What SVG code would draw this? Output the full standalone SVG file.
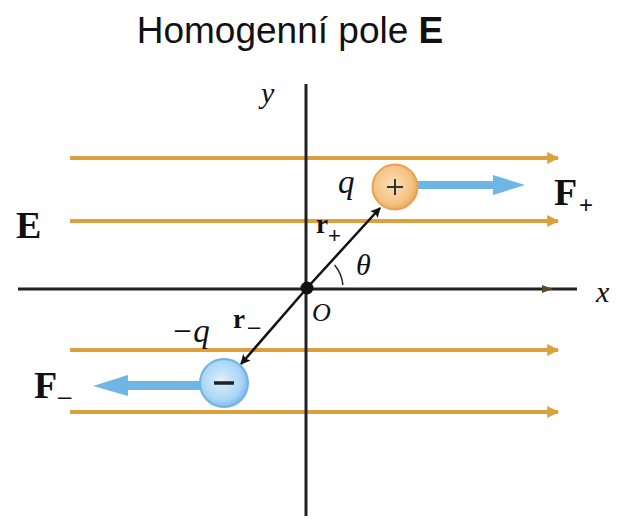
<svg xmlns="http://www.w3.org/2000/svg" width="617" height="519" viewBox="0 0 617 519">
<defs>
<marker id="oh" viewBox="0 0 10 10" refX="9" refY="5" markerWidth="4.5" markerHeight="3" markerUnits="strokeWidth" orient="auto"><path d="M0,0 L10,5 L0,10 Z" fill="#DCA03C"/></marker>
<marker id="bh" viewBox="0 0 10 10" refX="9" refY="5" markerWidth="5" markerHeight="4" markerUnits="strokeWidth" orient="auto"><path d="M0,0 L10,5 L0,10 L2,5 Z" fill="#111"/></marker>
<radialGradient id="gp" cx="0.45" cy="0.45" r="0.6"><stop offset="0" stop-color="#FCE0B8"/><stop offset="0.7" stop-color="#F5C282"/><stop offset="1" stop-color="#E9A154"/></radialGradient>
<radialGradient id="gn" cx="0.45" cy="0.45" r="0.6"><stop offset="0" stop-color="#DDF0FD"/><stop offset="0.7" stop-color="#A9D5F5"/><stop offset="1" stop-color="#6EB3EA"/></radialGradient>
</defs>
<style>
.field{stroke:#DCA03C;stroke-width:4;fill:none;marker-end:url(#oh)}
.axis{stroke:#222;stroke-width:3;fill:none}
.vec{stroke:#111;stroke-width:2.5;fill:none;marker-end:url(#bh)}
.force{fill:#6DB6E6}
.it{font-family:"Liberation Serif",serif;font-style:italic;fill:#111}
.bd{font-family:"Liberation Serif",serif;font-weight:bold;fill:#111}
.sub{font-family:"Liberation Sans",sans-serif;fill:#111}
</style>
<rect width="617" height="519" fill="#fff"/>
<text x="290" y="43" text-anchor="middle" font-family="Liberation Sans, Arial, sans-serif" font-size="37" fill="#111">Homogenní pole <tspan font-weight="bold">E</tspan></text>

<g id="connectors">
<line class="field" x1="70" y1="158" x2="558" y2="158"/>
<line class="field" x1="70" y1="221" x2="558" y2="221"/>
<line class="field" x1="70" y1="350" x2="558" y2="350"/>
<line class="field" x1="70" y1="412" x2="558" y2="412"/>
<line class="axis" x1="18" y1="289" x2="577" y2="289"/>
<path d="M542,285 L553,289 L542,293 Z" fill="#5A4C24"/>
<line class="axis" x1="306" y1="84" x2="306" y2="516"/>
<line class="vec" x1="307" y1="288" x2="380" y2="208"/>
<line class="vec" x1="307" y1="288" x2="241" y2="364"/>
<path d="M342.9,284.9 A36,36 0 0 0 334.6,264.9" stroke="#222" stroke-width="1.5" fill="none"/>
</g>

<g id="origin"><circle cx="307" cy="288" r="6.5" fill="#111"/></g>

<g id="force-plus"><path class="force" d="M416,181 L493,181 L493,175 L525,185 L493,195 L493,189 L416,189 Z"/></g>
<g id="force-minus"><path class="force" d="M202,381 L128,381 L128,375 L93,386 L128,396 L128,390 L202,390 Z"/></g>

<g id="charge-plus">
<circle cx="395" cy="187" r="22.5" fill="url(#gp)" stroke="#E9A154" stroke-width="2"/>
<path d="M387,187 H403 M395,179 V195" stroke="#333" stroke-width="2"/>
</g>
<g id="charge-minus">
<circle cx="224" cy="383" r="24" fill="url(#gn)" stroke="#6EB3EA" stroke-width="2"/>
<path d="M214,383 H234" stroke="#222" stroke-width="3.5"/>
</g>

<g id="labels">
<text class="it" x="261" y="103" font-size="30">y</text>
<text class="it" x="596" y="302" font-size="30">x</text>
<text class="bd" x="16" y="238" font-size="38">E</text>
<text class="it" x="338" y="193" font-size="33">q</text>
<text class="bd" x="554" y="205" font-size="38">F</text>
<text class="sub" x="579" y="213" font-size="24">+</text>
<text class="bd" x="316" y="233" font-size="27">r</text>
<text class="sub" x="328" y="243" font-size="22">+</text>
<text class="it" x="356" y="275" font-size="30">θ</text>
<text class="it" x="312" y="321" font-size="26">O</text>
<text class="bd" x="233" y="328" font-size="27">r</text>
<text class="sub" x="248" y="334" font-size="22">–</text>
<text class="it" x="171" y="342" font-size="33">−q</text>
<text class="bd" x="34" y="398" font-size="38">F</text>
<text class="sub" x="58" y="404" font-size="24">–</text>
</g>
</svg>
